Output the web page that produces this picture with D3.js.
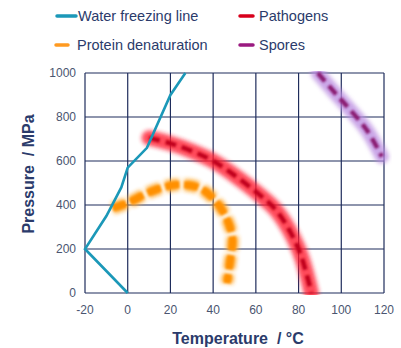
<!DOCTYPE html>
<html><head><meta charset="utf-8">
<script src="https://cdn.jsdelivr.net/npm/d3@7"></script>
<style>body{margin:0;background:#fff}svg{display:block}</style>
</head><body>
<script>
const xTicks = [-20,0,20,40,60,80,100,120];
const yTicks = [0,200,400,600,800,1000];
const waterT = [0,-20,-10,-3,0,9,20,27];
const waterP = [0,200,350,480,570,660,900,1000];
const pathT = [10,20,30,40,50,60,70,80,86];
const pathP = [705,680,645,600,535,460,370,200,0];
const protT = [-7,0,12,23,33,40,46,49,48,46.5];
const protP = [385,410,465,492,480,430,345,250,150,45];
const sporeT = [89,97,103,112,119];
const sporeP = [1000,910,845,740,620];
const legendNames = ["Water freezing line","Pathogens","Protein denaturation","Spores"];

const W=401,H=348;
const svg=d3.select("body").append("svg").attr("width",W).attr("height",H);
const defs=svg.append("defs");
function blurF(id,s){defs.append("filter").attr("id",id).attr("x","-30%").attr("y","-30%").attr("width","160%").attr("height","160%")
 .append("feGaussianBlur").attr("stdDeviation",s);}
blurF("blur",2.2); blurF("blur2",0.9); blurF("blur3",1.6);

const x=d3.scaleLinear().domain([-20,120]).range([85,384]);
const y=d3.scaleLinear().domain([0,1000]).range([293,73]);
const grid="#1f2d5c", txt="#2b3b6b";
const font="Liberation Sans, Arial, sans-serif";

// grid
svg.append("g").selectAll("line").data(xTicks).join("line")
 .attr("x1",d=>x(d)).attr("x2",d=>x(d)).attr("y1",y(0)).attr("y2",y(1000))
 .attr("stroke",grid).attr("stroke-width",1.2);
svg.append("g").selectAll("line").data(yTicks).join("line")
 .attr("y1",d=>y(d)).attr("y2",d=>y(d)).attr("x1",x(-20)).attr("x2",x(120))
 .attr("stroke",grid).attr("stroke-width",1.2);

// tick labels
svg.append("g").selectAll("text").data(xTicks).join("text")
 .attr("x",d=>x(d)).attr("y",314).attr("text-anchor","middle")
 .attr("font-family",font).attr("font-size",12).attr("fill","#4a5570").text(d=>d);
svg.append("g").selectAll("text").data(yTicks).join("text")
 .attr("x",76).attr("y",d=>y(d)+4).attr("text-anchor","end")
 .attr("font-family",font).attr("font-size",12).attr("fill","#4a5570").text(d=>d);

// axis titles
svg.append("text").attr("x",238).attr("y",344).attr("text-anchor","middle")
 .attr("font-family",font).attr("font-size",16).attr("font-weight","bold").attr("fill",txt)
 .attr("xml:space","preserve").text("Temperature  / °C");
svg.append("text").attr("transform","translate(34,174) rotate(-90)").attr("text-anchor","middle")
 .attr("font-family",font).attr("font-size",16).attr("font-weight","bold").attr("fill",txt)
 .attr("xml:space","preserve").text("Pressure  / MPa");

const line=d3.line().x(d=>x(d[0])).y(d=>y(d[1])).curve(d3.curveCatmullRom.alpha(0.5));
defs.append("clipPath").attr("id","pc").append("rect")
 .attr("x",x(-20)).attr("y",y(1000)-2).attr("width",x(120)-x(-20)+8).attr("height",y(0)-y(1000)+4);

function pathOf(T,P){return line(T.map((t,i)=>[t,P[i]]));}

// pathogens
{
  const g=svg.append("g").attr("clip-path","url(#pc)");
  const d=pathOf(pathT,pathP);
  g.append("path").attr("d",d).attr("fill","none").attr("stroke","#ff1f30")
   .attr("stroke-width",15).attr("stroke-linecap","round").attr("opacity",0.8).attr("filter","url(#blur)");
  g.append("path").attr("d",d).attr("fill","none").attr("stroke","#c0001a")
   .attr("stroke-width",4.5).attr("stroke-dasharray","11,6").attr("filter","url(#blur2)");
}
// protein
{
  const g=svg.append("g").attr("clip-path","url(#pc)");
  const d=pathOf(protT,protP);
  g.append("path").attr("d",d).attr("fill","none").attr("stroke","#ffa526")
   .attr("stroke-width",12).attr("stroke-dasharray","14,5").attr("opacity",0.95).attr("filter","url(#blur)");
  g.append("path").attr("d",d).attr("fill","none").attr("stroke","#ff9000")
   .attr("stroke-width",7).attr("stroke-dasharray","14,5").attr("filter","url(#blur2)");
}
// spores
{
  const g=svg.append("g").attr("clip-path","url(#pc)");
  const d=pathOf(sporeT,sporeP);
  g.append("path").attr("d",d).attr("fill","none").attr("stroke","#b98ae0")
   .attr("stroke-width",14).attr("stroke-linecap","round").attr("opacity",0.75).attr("filter","url(#blur)");
  g.append("path").attr("d",d).attr("fill","none").attr("stroke","#8a1a72")
   .attr("stroke-width",4.5).attr("stroke-dasharray","11,6").attr("filter","url(#blur2)");
}

// water line
svg.append("path").attr("d",d3.line().x(d=>x(d[0])).y(d=>y(d[1]))(waterT.map((t,i)=>[t,waterP[i]])))
 .attr("fill","none").attr("stroke","#1b98b8").attr("stroke-width",2.6);

// legend
const leg=[{n:legendNames[0],c:"#1b98b8",x1:57,x2:76,tx:78,y:16},
 {n:legendNames[1],c:"#d8001c",x1:240,x2:253,tx:259,y:16},
 {n:legendNames[2],c:"#ff9a20",x1:56,x2:68,tx:77,y:45},
 {n:legendNames[3],c:"#9a1a80",x1:240,x2:253,tx:259,y:45}];
const lg=svg.append("g");
leg.forEach(l=>{
  lg.append("line").attr("x1",l.x1).attr("x2",l.x2).attr("y1",l.y).attr("y2",l.y)
   .attr("stroke",l.c).attr("stroke-width",3.5).attr("stroke-linecap","round");
  lg.append("text").attr("x",l.tx).attr("y",l.y+5).attr("font-family",font)
   .attr("font-size",14.5).attr("fill",txt).text(l.n);
});
</script>
</body></html>
